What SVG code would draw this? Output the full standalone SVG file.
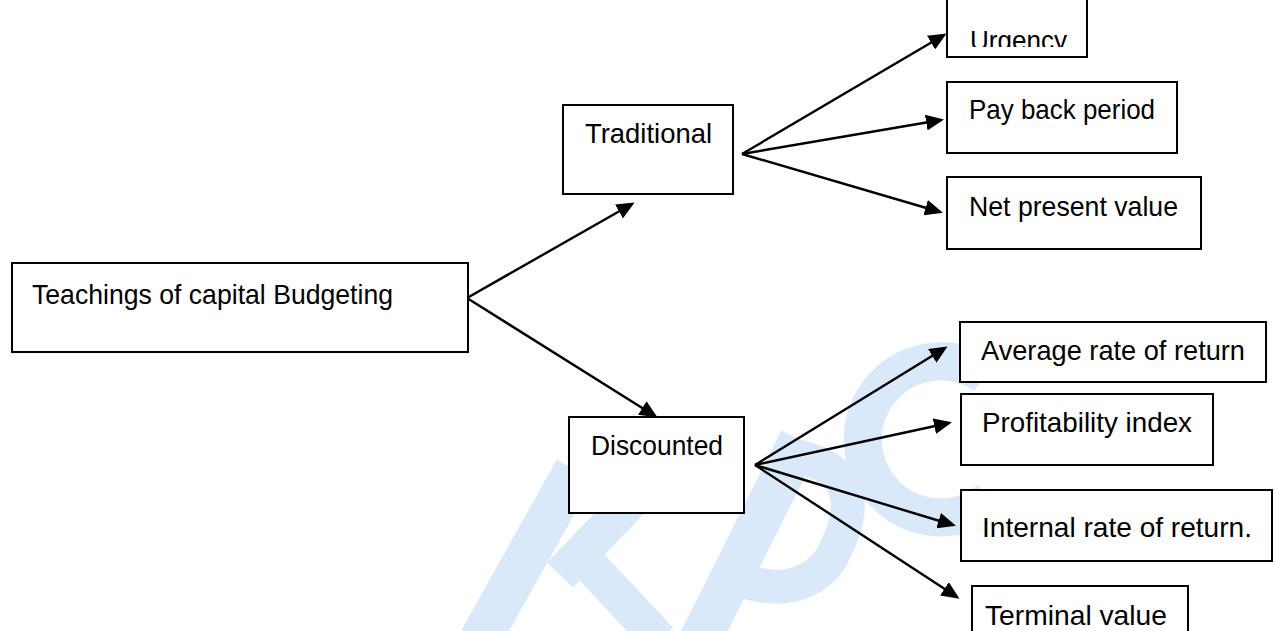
<svg xmlns="http://www.w3.org/2000/svg" width="1274" height="631" viewBox="0 0 1274 631">
  <style>
    .box { fill: #ffffff; stroke: #000000; stroke-width: 2; }
    .lbl { font-family: "Liberation Sans", Arial, sans-serif; font-size: 28px; fill: #000000; }
    .conn { stroke: #000000; stroke-width: 2.4; fill: none; marker-end: url(#arrow); }
    .wm { stroke: #d9e9f9; fill: none; stroke-linecap: butt; }
  </style>
  <defs>
    <marker id="arrow" markerUnits="userSpaceOnUse" markerWidth="18" markerHeight="16" refX="15" refY="8" orient="auto">
      <path d="M0,0 L18,8 L0,16 z" fill="#000000"/>
    </marker>
    <clipPath id="clipUrgency">
      <rect x="947" y="-10" width="140" height="57"/>
    </clipPath>
  </defs>
  <rect width="1274" height="631" fill="#ffffff"/>

  <g id="watermark">
    <path class="wm" stroke-width="42" d="M 480 640 L 575 470"/>
    <path class="wm" stroke-width="36" d="M 560 575 L 690 440"/>
    <path class="wm" stroke-width="36" d="M 585 560 L 660 640"/>
    <path class="wm" stroke-width="42" d="M 700 640 L 800 440"/>
    <path class="wm" stroke-width="34" d="M 790 455 Q 880 470 830 560 Q 800 600 740 580"/>
    <path class="wm" stroke-width="38" d="M 985 375 A 78 78 0 1 0 990 500"/>
  </g>

  <g id="connectors">
    <line class="conn" x1="467" y1="298" x2="632" y2="204"/>
    <line class="conn" x1="467" y1="298" x2="655" y2="416"/>
    <line class="conn" x1="742" y1="154" x2="944" y2="35"/>
    <line class="conn" x1="742" y1="154" x2="941" y2="120"/>
    <line class="conn" x1="742" y1="154" x2="940" y2="212"/>
    <line class="conn" x1="755" y1="465" x2="945" y2="348"/>
    <line class="conn" x1="755" y1="465" x2="949" y2="423"/>
    <line class="conn" x1="755" y1="465" x2="953" y2="525"/>
    <line class="conn" x1="755" y1="465" x2="957" y2="597"/>
  </g>

  <g id="node-root">
    <rect class="box" x="12" y="263" width="456" height="89"/>
    <text class="lbl" x="32" y="304" textLength="361" lengthAdjust="spacingAndGlyphs">Teachings of capital Budgeting</text>
  </g>
  <g id="node-traditional">
    <rect class="box" x="563" y="105" width="170" height="89"/>
    <text class="lbl" x="585" y="143" textLength="127" lengthAdjust="spacingAndGlyphs">Traditional</text>
  </g>
  <g id="node-urgency">
    <rect class="box" x="947" y="-10" width="140" height="67"/>
    <text class="lbl" x="970" y="50" textLength="97" lengthAdjust="spacingAndGlyphs" clip-path="url(#clipUrgency)">Urgency</text>
  </g>
  <g id="node-payback">
    <rect class="box" x="947" y="82" width="230" height="71"/>
    <text class="lbl" x="969" y="119" textLength="186" lengthAdjust="spacingAndGlyphs">Pay back period</text>
  </g>
  <g id="node-npv">
    <rect class="box" x="947" y="177" width="254" height="72"/>
    <text class="lbl" x="969" y="216" textLength="209" lengthAdjust="spacingAndGlyphs">Net present value</text>
  </g>
  <g id="node-discounted">
    <rect class="box" x="569" y="417" width="175" height="96"/>
    <text class="lbl" x="591" y="455" textLength="132" lengthAdjust="spacingAndGlyphs">Discounted</text>
  </g>
  <g id="node-arr">
    <rect class="box" x="960" y="322" width="306" height="60"/>
    <text class="lbl" x="981" y="360" textLength="264" lengthAdjust="spacingAndGlyphs">Average rate of return</text>
  </g>
  <g id="node-pi">
    <rect class="box" x="961" y="394" width="252" height="71"/>
    <text class="lbl" x="982" y="432" textLength="210" lengthAdjust="spacingAndGlyphs">Profitability index</text>
  </g>
  <g id="node-irr">
    <rect class="box" x="961" y="490" width="311" height="71"/>
    <text class="lbl" x="982" y="537" textLength="270" lengthAdjust="spacingAndGlyphs">Internal rate of return.</text>
  </g>
  <g id="node-terminal">
    <rect class="box" x="972" y="586" width="216" height="60"/>
    <text class="lbl" x="985" y="625" textLength="182" lengthAdjust="spacingAndGlyphs">Terminal value</text>
  </g>
</svg>
